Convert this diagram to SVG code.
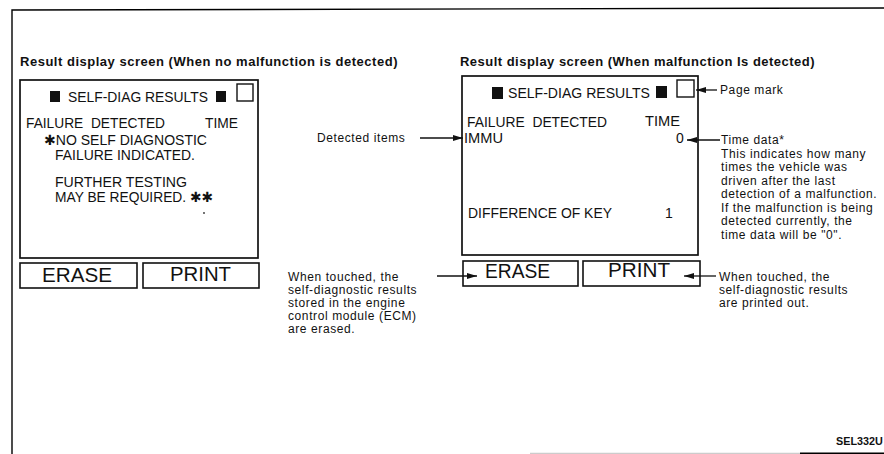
<svg xmlns="http://www.w3.org/2000/svg" width="884" height="454" viewBox="0 0 884 454">
<defs>
<style>
.frame{stroke:#000;stroke-width:1.4;fill:none}
.scr{fill:#fff;stroke:#111;stroke-width:1.7}
.btnbox{fill:#fff;stroke:#111;stroke-width:1.6}
.sq{fill:#111}
.esq{fill:#fff;stroke:#111;stroke-width:1.4}
text{font-family:"Liberation Sans",Arial,"DejaVu Sans",sans-serif;fill:#111}
.head{font-size:13px;font-weight:bold;letter-spacing:0.5px}
.st{font-size:14px}
.hdr{font-size:15px}
.btn{font-size:20px}
.note{font-size:12px;letter-spacing:0.6px}
.code{font-size:10.8px;font-weight:bold}
.conn{stroke:#111;stroke-width:1.3;fill:none;marker-end:url(#ah)}
</style>
<marker id="ah" viewBox="0 0 10 6" refX="10" refY="3" markerWidth="10" markerHeight="6" markerUnits="userSpaceOnUse" orient="auto">
<path d="M0,0 L10,3 L0,6 Z" fill="#111"/>
</marker>
</defs>
<rect width="884" height="454" fill="#fff"/>

<g id="frame">
<path class="frame" d="M12,454 L12,10 L884,8"/>
<line x1="530" y1="453.3" x2="800" y2="453.3" stroke="#ccc" stroke-width="1.2"/>
<line x1="800" y1="453.3" x2="884" y2="453.3" stroke="#000" stroke-width="1.4"/>
</g>

<g id="heading-left">
<text class="head" x="20" y="66" textLength="378">Result display screen (When no malfunction is detected)</text>
</g>

<g id="screen-left">
<rect class="scr" x="20" y="80" width="238" height="178"/>
<rect class="sq" x="50" y="91" width="10" height="11"/>
<text class="hdr" x="68" y="102" textLength="140" lengthAdjust="spacingAndGlyphs">SELF-DIAG RESULTS</text>
<rect class="sq" x="216" y="91" width="10" height="11"/>
<rect class="esq" x="237" y="84" width="16" height="17"/>
<text class="st" x="26" y="128" textLength="139" lengthAdjust="spacingAndGlyphs" xml:space="preserve">FAILURE  DETECTED</text>
<text class="st" x="205" y="128" textLength="33" lengthAdjust="spacingAndGlyphs">TIME</text>
<text class="st" x="44" y="145" textLength="163" lengthAdjust="spacingAndGlyphs">✱NO SELF DIAGNOSTIC</text>
<text class="st" x="55" y="160" textLength="140" lengthAdjust="spacingAndGlyphs">FAILURE INDICATED.</text>
<text class="st" x="55" y="187" textLength="132" lengthAdjust="spacingAndGlyphs">FURTHER TESTING</text>
<text class="st" x="55" y="202" textLength="158" lengthAdjust="spacingAndGlyphs">MAY BE REQUIRED. ✱✱</text>
<circle cx="204" cy="213" r="0.9" fill="#333"/>
</g>

<g id="erase-left">
<rect class="btnbox" x="20" y="263" width="117" height="25"/>
<text class="btn" x="42" y="282" textLength="70" lengthAdjust="spacingAndGlyphs">ERASE</text>
</g>
<g id="print-left">
<rect class="btnbox" x="143" y="263" width="116" height="25"/>
<text class="btn" x="170" y="281" textLength="61" lengthAdjust="spacingAndGlyphs">PRINT</text>
</g>

<g id="heading-right">
<text class="head" x="460" y="66" textLength="355">Result display screen (When malfunction Is detected)</text>
</g>

<g id="screen-right">
<rect class="scr" x="462" y="76" width="236" height="179"/>
<rect class="sq" x="492" y="87" width="11" height="12"/>
<text class="hdr" x="508" y="98" textLength="142" lengthAdjust="spacingAndGlyphs">SELF-DIAG RESULTS</text>
<rect class="sq" x="656" y="86" width="11" height="12"/>
<rect class="esq" x="677" y="80" width="17" height="17"/>
<text class="st" x="467" y="127" textLength="140" lengthAdjust="spacingAndGlyphs" xml:space="preserve">FAILURE  DETECTED</text>
<text class="st" x="645" y="126" textLength="35" lengthAdjust="spacingAndGlyphs">TIME</text>
<text class="st" x="464" y="143" textLength="39" lengthAdjust="spacingAndGlyphs">IMMU</text>
<text class="st" x="676" y="143">0</text>
<text class="st" x="468" y="218" textLength="144" lengthAdjust="spacingAndGlyphs">DIFFERENCE OF KEY</text>
<text class="st" x="665" y="218">1</text>
</g>

<g id="erase-right">
<rect class="btnbox" x="463" y="261" width="115" height="25"/>
<text class="btn" x="485" y="278" textLength="65" lengthAdjust="spacingAndGlyphs">ERASE</text>
</g>
<g id="print-right">
<rect class="btnbox" x="583" y="261" width="117" height="25"/>
<text class="btn" x="608" y="277" textLength="62" lengthAdjust="spacingAndGlyphs">PRINT</text>
</g>

<g id="note-detected">
<text class="note" x="317" y="142">Detected items</text>
</g>
<g id="note-pagemark">
<text class="note" x="720" y="94">Page mark</text>
</g>
<g id="note-time">
<text class="note" x="721" y="144">Time data*</text>
<text class="note" x="721" y="158">This indicates how many</text>
<text class="note" x="721" y="171">times the vehicle was</text>
<text class="note" x="721" y="185">driven after the last</text>
<text class="note" x="721" y="198">detection of a malfunction.</text>
<text class="note" x="721" y="212">If the malfunction is being</text>
<text class="note" x="721" y="225">detected currently, the</text>
<text class="note" x="721" y="239">time data will be "0".</text>
</g>
<g id="note-erase">
<text class="note" x="288" y="281">When touched, the</text>
<text class="note" x="288" y="294">self-diagnostic results</text>
<text class="note" x="288" y="307">stored in the engine</text>
<text class="note" x="288" y="320">control module (ECM)</text>
<text class="note" x="288" y="333">are erased.</text>
</g>
<g id="note-print">
<text class="note" x="719" y="281">When touched, the</text>
<text class="note" x="719" y="294">self-diagnostic results</text>
<text class="note" x="719" y="307">are printed out.</text>
</g>
<g id="code">
<text class="code" x="836" y="445">SEL332U</text>
</g>

<g id="connectors">
<line class="conn" x1="420" y1="138" x2="463" y2="138"/>
<line class="conn" x1="717" y1="90" x2="696" y2="90"/>
<line class="conn" x1="720" y1="140" x2="687" y2="140"/>
<line class="conn" x1="437" y1="276" x2="477" y2="276"/>
<line class="conn" x1="716" y1="276" x2="684" y2="276"/>
</g>
</svg>
